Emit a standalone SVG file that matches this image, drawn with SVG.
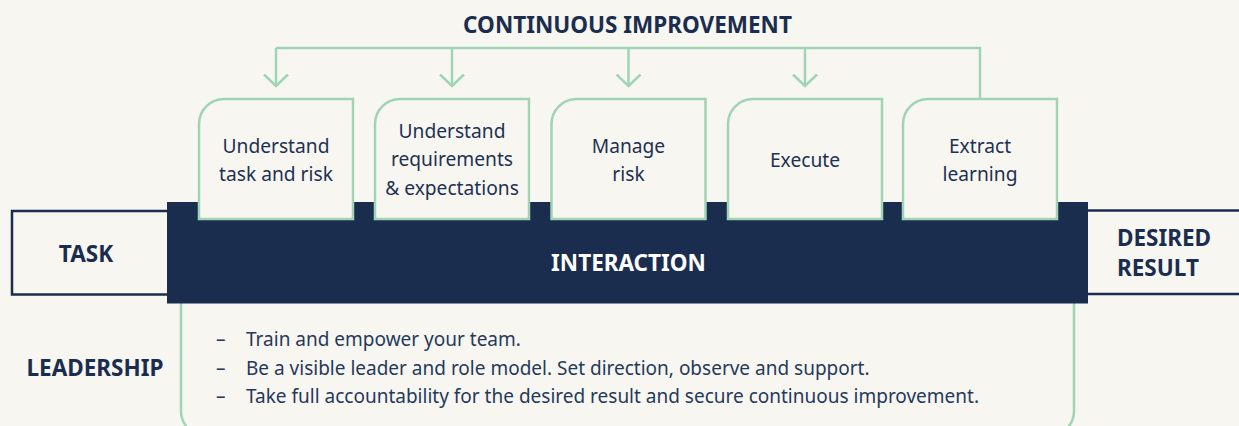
<svg xmlns="http://www.w3.org/2000/svg" width="1239" height="426" viewBox="0 0 1239 426">
  <style>
    .bg { fill: #f7f6f1; }
    .step { fill: #f7f6f1; stroke: #9fd5b5; stroke-width: 2.5; }
    .frame { fill: #f7f6f1; stroke: #1b2d4f; stroke-width: 2.5; }
    .lead { fill: none; stroke: #9fd5b5; stroke-width: 2.5; }
    .band { fill: #1b2d4f; }
    .wire { fill: none; stroke: #9fd5b5; stroke-width: 2.5; }
    .head { font-family: "Noto Sans", "Open Sans", sans-serif; font-weight: 700; font-size: 22.5px; fill: #1b2d4f; }
    .label { font-family: "Noto Sans", "Open Sans", sans-serif; font-size: 19.2px; fill: #1e3152; text-anchor: middle; }
    .body { font-family: "Noto Sans", "Open Sans", sans-serif; font-size: 19px; fill: #26395a; }
  </style>
  <defs>
    <marker id="chev" viewBox="0 0 14 26" refX="12.5" refY="13" markerWidth="14" markerHeight="26" markerUnits="userSpaceOnUse" orient="auto">
      <path d="M1,1 L12.5,13 L1,25" fill="none" stroke="#9fd5b5" stroke-width="2.5"/>
    </marker>
  </defs>

  <rect class="bg" x="0" y="0" width="1239" height="426"/>

  <text class="head" x="627.5" y="33" text-anchor="middle">CONTINUOUS IMPROVEMENT</text>

  <!-- feedback loop from the last step back to every earlier step -->
  <g id="connectors">
    <path class="wire" d="M980,99 V48 H276"/>
    <path class="wire" d="M276,48 V86" marker-end="url(#chev)"/>
    <path class="wire" d="M452,48 V86" marker-end="url(#chev)"/>
    <path class="wire" d="M628.5,48 V86" marker-end="url(#chev)"/>
    <path class="wire" d="M805,48 V86" marker-end="url(#chev)"/>
  </g>

  <!-- side boxes -->
  <g id="task">
    <rect class="frame" x="12" y="211" width="175" height="83.5"/>
    <text class="head" x="86" y="262" text-anchor="middle">TASK</text>
  </g>
  <g id="desired-result">
    <rect class="frame" x="1070" y="210.5" width="200" height="83.5"/>
    <text class="head" x="1117" y="245.7">DESIRED</text>
    <text class="head" x="1117" y="275.7">RESULT</text>
  </g>

  <!-- leadership frame under the band -->
  <g id="leadership">
    <path class="lead" d="M181,290 V411 A25,25 0 0 0 206,436 H1049 A25,25 0 0 0 1074,411 V290"/>
    <text class="head" x="95" y="376" text-anchor="middle">LEADERSHIP</text>
    <text class="body" x="216" y="346">–</text>
    <text class="body" x="246" y="346">Train and empower your team.</text>
    <text class="body" x="216" y="374.5">–</text>
    <text class="body" x="246" y="374.5">Be a visible leader and role model. Set direction, observe and support.</text>
    <text class="body" x="216" y="402.7">–</text>
    <text class="body" x="246" y="402.7">Take full accountability for the desired result and secure continuous improvement.</text>
  </g>

  <g id="interaction">
    <rect class="band" x="167" y="202" width="921" height="101.5"/>
    <text class="head" x="628.5" y="271" text-anchor="middle" style="fill:#ffffff">INTERACTION</text>
  </g>

  <!-- process steps -->
  <g id="step-understand-task">
    <path class="step" d="M199,219 V124 A25,25 0 0 1 224,99 H353 V219 Z"/>
    <text class="label" x="276" y="152.5">Understand</text>
    <text class="label" x="276" y="180.5">task and risk</text>
  </g>
  <g id="step-understand-requirements">
    <path class="step" d="M375,219 V124 A25,25 0 0 1 400,99 H529 V219 Z"/>
    <text class="label" x="452" y="137.5">Understand</text>
    <text class="label" x="452" y="166">requirements</text>
    <text class="label" x="452" y="194.5">&amp; expectations</text>
  </g>
  <g id="step-manage-risk">
    <path class="step" d="M551.5,219 V124 A25,25 0 0 1 576.5,99 H705.5 V219 Z"/>
    <text class="label" x="628.5" y="152.5">Manage</text>
    <text class="label" x="628.5" y="180.5">risk</text>
  </g>
  <g id="step-execute">
    <path class="step" d="M728,219 V124 A25,25 0 0 1 753,99 H882 V219 Z"/>
    <text class="label" x="805" y="166.5">Execute</text>
  </g>
  <g id="step-extract-learning">
    <path class="step" d="M903,219 V124 A25,25 0 0 1 928,99 H1057 V219 Z"/>
    <text class="label" x="980" y="152.5">Extract</text>
    <text class="label" x="980" y="180.5">learning</text>
  </g>
</svg>
